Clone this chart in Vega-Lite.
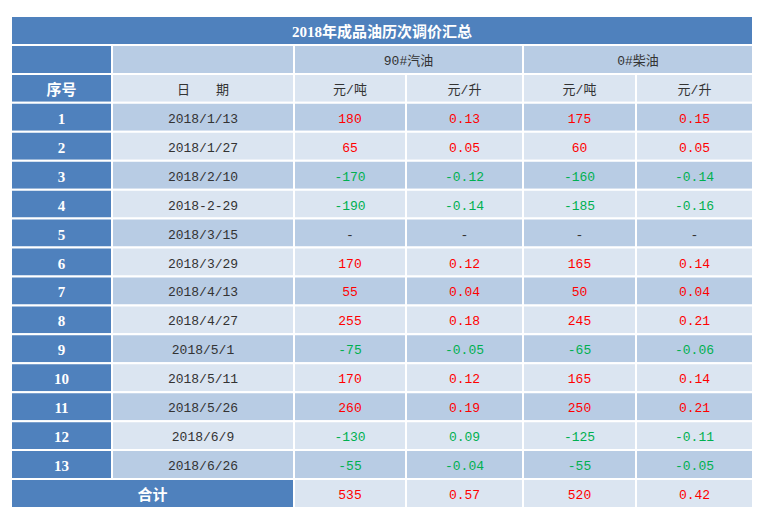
{
  "$schema": "https://vega.github.io/schema/vega-lite/v6.json",
  "width": 767,
  "height": 520,
  "padding": 0,
  "autosize": "none",
  "background": "#FFFFFF",
  "config": {"view": {"stroke": null}},
  "data": {
    "values": [
      {"r": 0, "c0": 0, "c1": 6, "t": "2018年成品油历次调价汇总", "f": "dark", "k": "w"},
      {"r": 1, "c0": 0, "c1": 1, "t": "", "f": "dark", "k": "w"},
      {"r": 1, "c0": 1, "c1": 2, "t": "", "f": "mid", "k": "n"},
      {"r": 1, "c0": 2, "c1": 4, "t": "90#汽油", "f": "mid", "k": "n"},
      {"r": 1, "c0": 4, "c1": 6, "t": "0#柴油", "f": "mid", "k": "n"},
      {"r": 2, "c0": 0, "c1": 1, "t": "序号", "f": "dark", "k": "w"},
      {"r": 2, "c0": 1, "c1": 2, "t": "日　　期", "f": "light", "k": "n"},
      {"r": 2, "c0": 2, "c1": 3, "t": "元/吨", "f": "light", "k": "n"},
      {"r": 2, "c0": 3, "c1": 4, "t": "元/升", "f": "light", "k": "n"},
      {"r": 2, "c0": 4, "c1": 5, "t": "元/吨", "f": "light", "k": "n"},
      {"r": 2, "c0": 5, "c1": 6, "t": "元/升", "f": "light", "k": "n"},

      {"r": 3, "c0": 0, "c1": 1, "t": "1", "f": "dark", "k": "w"},
      {"r": 3, "c0": 1, "c1": 2, "t": "2018/1/13", "f": "mid", "k": "n"},
      {"r": 3, "c0": 2, "c1": 3, "t": "180", "f": "mid", "k": "up"},
      {"r": 3, "c0": 3, "c1": 4, "t": "0.13", "f": "mid", "k": "up"},
      {"r": 3, "c0": 4, "c1": 5, "t": "175", "f": "mid", "k": "up"},
      {"r": 3, "c0": 5, "c1": 6, "t": "0.15", "f": "mid", "k": "up"},

      {"r": 4, "c0": 0, "c1": 1, "t": "2", "f": "dark", "k": "w"},
      {"r": 4, "c0": 1, "c1": 2, "t": "2018/1/27", "f": "light", "k": "n"},
      {"r": 4, "c0": 2, "c1": 3, "t": "65", "f": "light", "k": "up"},
      {"r": 4, "c0": 3, "c1": 4, "t": "0.05", "f": "light", "k": "up"},
      {"r": 4, "c0": 4, "c1": 5, "t": "60", "f": "light", "k": "up"},
      {"r": 4, "c0": 5, "c1": 6, "t": "0.05", "f": "light", "k": "up"},

      {"r": 5, "c0": 0, "c1": 1, "t": "3", "f": "dark", "k": "w"},
      {"r": 5, "c0": 1, "c1": 2, "t": "2018/2/10", "f": "mid", "k": "n"},
      {"r": 5, "c0": 2, "c1": 3, "t": "-170", "f": "mid", "k": "dn"},
      {"r": 5, "c0": 3, "c1": 4, "t": "-0.12", "f": "mid", "k": "dn"},
      {"r": 5, "c0": 4, "c1": 5, "t": "-160", "f": "mid", "k": "dn"},
      {"r": 5, "c0": 5, "c1": 6, "t": "-0.14", "f": "mid", "k": "dn"},

      {"r": 6, "c0": 0, "c1": 1, "t": "4", "f": "dark", "k": "w"},
      {"r": 6, "c0": 1, "c1": 2, "t": "2018-2-29", "f": "light", "k": "n"},
      {"r": 6, "c0": 2, "c1": 3, "t": "-190", "f": "light", "k": "dn"},
      {"r": 6, "c0": 3, "c1": 4, "t": "-0.14", "f": "light", "k": "dn"},
      {"r": 6, "c0": 4, "c1": 5, "t": "-185", "f": "light", "k": "dn"},
      {"r": 6, "c0": 5, "c1": 6, "t": "-0.16", "f": "light", "k": "dn"},

      {"r": 7, "c0": 0, "c1": 1, "t": "5", "f": "dark", "k": "w"},
      {"r": 7, "c0": 1, "c1": 2, "t": "2018/3/15", "f": "mid", "k": "n"},
      {"r": 7, "c0": 2, "c1": 3, "t": "-", "f": "mid", "k": "n"},
      {"r": 7, "c0": 3, "c1": 4, "t": "-", "f": "mid", "k": "n"},
      {"r": 7, "c0": 4, "c1": 5, "t": "-", "f": "mid", "k": "n"},
      {"r": 7, "c0": 5, "c1": 6, "t": "-", "f": "mid", "k": "n"},

      {"r": 8, "c0": 0, "c1": 1, "t": "6", "f": "dark", "k": "w"},
      {"r": 8, "c0": 1, "c1": 2, "t": "2018/3/29", "f": "light", "k": "n"},
      {"r": 8, "c0": 2, "c1": 3, "t": "170", "f": "light", "k": "up"},
      {"r": 8, "c0": 3, "c1": 4, "t": "0.12", "f": "light", "k": "up"},
      {"r": 8, "c0": 4, "c1": 5, "t": "165", "f": "light", "k": "up"},
      {"r": 8, "c0": 5, "c1": 6, "t": "0.14", "f": "light", "k": "up"},

      {"r": 9, "c0": 0, "c1": 1, "t": "7", "f": "dark", "k": "w"},
      {"r": 9, "c0": 1, "c1": 2, "t": "2018/4/13", "f": "mid", "k": "n"},
      {"r": 9, "c0": 2, "c1": 3, "t": "55", "f": "mid", "k": "up"},
      {"r": 9, "c0": 3, "c1": 4, "t": "0.04", "f": "mid", "k": "up"},
      {"r": 9, "c0": 4, "c1": 5, "t": "50", "f": "mid", "k": "up"},
      {"r": 9, "c0": 5, "c1": 6, "t": "0.04", "f": "mid", "k": "up"},

      {"r": 10, "c0": 0, "c1": 1, "t": "8", "f": "dark", "k": "w"},
      {"r": 10, "c0": 1, "c1": 2, "t": "2018/4/27", "f": "light", "k": "n"},
      {"r": 10, "c0": 2, "c1": 3, "t": "255", "f": "light", "k": "up"},
      {"r": 10, "c0": 3, "c1": 4, "t": "0.18", "f": "light", "k": "up"},
      {"r": 10, "c0": 4, "c1": 5, "t": "245", "f": "light", "k": "up"},
      {"r": 10, "c0": 5, "c1": 6, "t": "0.21", "f": "light", "k": "up"},

      {"r": 11, "c0": 0, "c1": 1, "t": "9", "f": "dark", "k": "w"},
      {"r": 11, "c0": 1, "c1": 2, "t": "2018/5/1", "f": "mid", "k": "n"},
      {"r": 11, "c0": 2, "c1": 3, "t": "-75", "f": "mid", "k": "dn"},
      {"r": 11, "c0": 3, "c1": 4, "t": "-0.05", "f": "mid", "k": "dn"},
      {"r": 11, "c0": 4, "c1": 5, "t": "-65", "f": "mid", "k": "dn"},
      {"r": 11, "c0": 5, "c1": 6, "t": "-0.06", "f": "mid", "k": "dn"},

      {"r": 12, "c0": 0, "c1": 1, "t": "10", "f": "dark", "k": "w"},
      {"r": 12, "c0": 1, "c1": 2, "t": "2018/5/11", "f": "light", "k": "n"},
      {"r": 12, "c0": 2, "c1": 3, "t": "170", "f": "light", "k": "up"},
      {"r": 12, "c0": 3, "c1": 4, "t": "0.12", "f": "light", "k": "up"},
      {"r": 12, "c0": 4, "c1": 5, "t": "165", "f": "light", "k": "up"},
      {"r": 12, "c0": 5, "c1": 6, "t": "0.14", "f": "light", "k": "up"},

      {"r": 13, "c0": 0, "c1": 1, "t": "11", "f": "dark", "k": "w"},
      {"r": 13, "c0": 1, "c1": 2, "t": "2018/5/26", "f": "mid", "k": "n"},
      {"r": 13, "c0": 2, "c1": 3, "t": "260", "f": "mid", "k": "up"},
      {"r": 13, "c0": 3, "c1": 4, "t": "0.19", "f": "mid", "k": "up"},
      {"r": 13, "c0": 4, "c1": 5, "t": "250", "f": "mid", "k": "up"},
      {"r": 13, "c0": 5, "c1": 6, "t": "0.21", "f": "mid", "k": "up"},

      {"r": 14, "c0": 0, "c1": 1, "t": "12", "f": "dark", "k": "w"},
      {"r": 14, "c0": 1, "c1": 2, "t": "2018/6/9", "f": "light", "k": "n"},
      {"r": 14, "c0": 2, "c1": 3, "t": "-130", "f": "light", "k": "dn"},
      {"r": 14, "c0": 3, "c1": 4, "t": "0.09", "f": "light", "k": "dn"},
      {"r": 14, "c0": 4, "c1": 5, "t": "-125", "f": "light", "k": "dn"},
      {"r": 14, "c0": 5, "c1": 6, "t": "-0.11", "f": "light", "k": "dn"},

      {"r": 15, "c0": 0, "c1": 1, "t": "13", "f": "dark", "k": "w"},
      {"r": 15, "c0": 1, "c1": 2, "t": "2018/6/26", "f": "mid", "k": "n"},
      {"r": 15, "c0": 2, "c1": 3, "t": "-55", "f": "mid", "k": "dn"},
      {"r": 15, "c0": 3, "c1": 4, "t": "-0.04", "f": "mid", "k": "dn"},
      {"r": 15, "c0": 4, "c1": 5, "t": "-55", "f": "mid", "k": "dn"},
      {"r": 15, "c0": 5, "c1": 6, "t": "-0.05", "f": "mid", "k": "dn"},

      {"r": 16, "c0": 0, "c1": 2, "t": "合计", "f": "dark", "k": "w"},
      {"r": 16, "c0": 2, "c1": 3, "t": "535", "f": "light", "k": "up"},
      {"r": 16, "c0": 3, "c1": 4, "t": "0.57", "f": "light", "k": "up"},
      {"r": 16, "c0": 4, "c1": 5, "t": "520", "f": "light", "k": "up"},
      {"r": 16, "c0": 5, "c1": 6, "t": "0.42", "f": "light", "k": "up"}
    ]
  },
  "encoding": {
    "y": {"field": "r", "type": "ordinal", "axis": null,
          "scale": {"range": [16, 508], "paddingInner": 0, "paddingOuter": 0}}
  },
  "layer": [
    {
      "mark": {"type": "rect", "stroke": "#FFFFFF", "strokeWidth": 2},
      "encoding": {
        "x": {"field": "c0", "type": "quantitative", "axis": null,
              "scale": {"type": "linear", "domain": [0, 1, 2, 3, 4, 5, 6], "range": [11, 112, 294, 406, 523, 636, 753], "nice": false, "zero": false}},
        "x2": {"field": "c1"},
        "fill": {"field": "f", "type": "nominal", "legend": null,
                 "scale": {"domain": ["dark", "mid", "light"], "range": ["#4F81BD", "#B8CCE4", "#DBE5F1"]}}
      }
    },
    {
      "transform": [{"filter": "datum.k != 'w'"}],
      "mark": {"type": "text", "font": "Liberation Mono, Noto Sans CJK SC", "fontSize": 13, "baseline": "middle", "align": "center", "dy": 1.5},
      "encoding": {
        "x": {"value": {"expr": "(scale('x', datum.c0) + scale('x', datum.c1)) / 2"}},
        "text": {"field": "t"},
        "color": {"field": "k", "type": "nominal", "legend": null,
                  "scale": {"domain": ["n", "up", "dn"], "range": ["#333333", "#FF0000", "#00B050"]}}
      }
    },
    {
      "transform": [{"filter": "datum.k == 'w'"}],
      "mark": {"type": "text", "font": "Liberation Serif, Noto Sans CJK SC", "fontSize": 15, "fontWeight": "bold", "baseline": "middle", "align": "center", "color": "#FFFFFF", "dy": 1.5},
      "encoding": {
        "x": {"value": {"expr": "(scale('x', datum.c0) + scale('x', datum.c1)) / 2"}},
        "text": {"field": "t"}
      }
    }
  ]
}
